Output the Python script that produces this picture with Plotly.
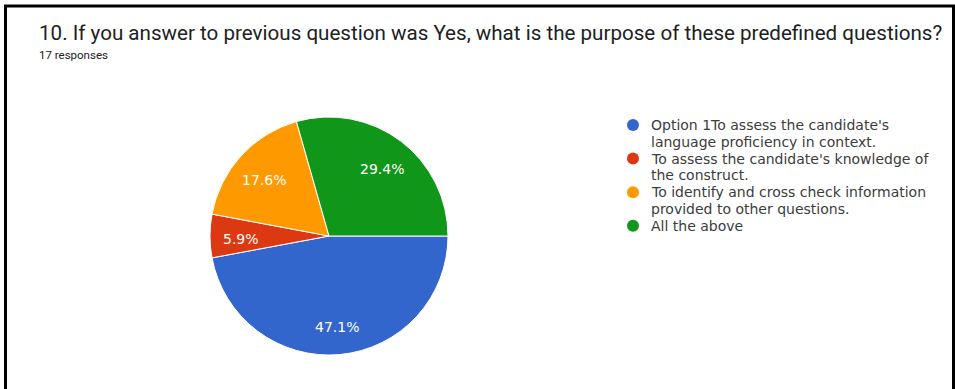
import math
import plotly.graph_objects as go

# Survey responses (17 total) for question 10
labels = [
    "Option 1To assess the candidate's language proficiency in context.",
    "To assess the candidate's knowledge of the construct.",
    "To identify and cross check information provided to other questions.",
    "All the above",
]
legend_lines = [
    ["Option 1To assess the candidate's", "language proficiency in context."],
    ["To assess the candidate's knowledge of", "the construct."],
    ["To identify and cross check information", "provided to other questions."],
    ["All the above"],
]
counts = [8, 1, 3, 5]
colors = ["#3366cc", "#dc3912", "#ff9900", "#109618"]

W, H = 955, 389
TITLE_FONT = "Roboto, Arial, sans-serif"
CHART_FONT = "DejaVu Sans, Arial, sans-serif"

# pie geometry in pixels
CX, CY, R = 329, 236, 119
LABEL_RADIUS = 0.74


def px(x):
    return x / W


def py(y):
    return 1 - y / H


fig = go.Figure()

fig.add_trace(go.Pie(
    labels=labels,
    values=counts,
    sort=False,
    direction="clockwise",
    rotation=90,
    marker=dict(colors=colors, line=dict(color="white", width=1)),
    textinfo="none",
    showlegend=False,
    hoverinfo="label+value+percent",
    domain=dict(x=[px(CX - R), px(CX + R)], y=[py(CY + R), py(CY - R)]),
))

annotations = []

# percentage labels placed along each slice's mid angle
total = sum(counts)
start = 0.0
for c in counts:
    frac = c / total
    mid = math.radians((start + frac / 2) * 360)  # clockwise from 3 o'clock
    lx = CX + LABEL_RADIUS * R * math.cos(mid)
    ly = CY + LABEL_RADIUS * R * math.sin(mid) + 3
    annotations.append(dict(
        text=f"{frac * 100:.1f}%", x=px(lx), y=py(ly),
        xref="paper", yref="paper", showarrow=False,
        xanchor="center", yanchor="middle",
        font=dict(family=CHART_FONT, size=14, color="white"),
    ))
    start += frac

# legend: circle marker plus wrapped text lines
shapes = []
LEG_X, LEG_TEXT_X, LEG_Y0, LINE_STEP, DOT_R = 633, 649, 125, 16.8, 6
line_no = 0
for lines, col in zip(legend_lines, colors):
    y_item = LEG_Y0 + line_no * LINE_STEP
    shapes.append(dict(
        type="circle", xref="paper", yref="paper",
        x0=px(LEG_X - DOT_R), x1=px(LEG_X + DOT_R),
        y0=py(y_item + DOT_R), y1=py(y_item - DOT_R),
        fillcolor=col, line=dict(width=0),
    ))
    for ln in lines:
        annotations.append(dict(
            text=ln, x=px(LEG_TEXT_X), y=py(LEG_Y0 + line_no * LINE_STEP),
            xref="paper", yref="paper", showarrow=False,
            xanchor="left", yanchor="middle",
            font=dict(family=CHART_FONT, size=14, color="#3c3c3c"),
        ))
        line_no += 1

annotations += [
    dict(text="10. If you answer to previous question was Yes, what is the purpose of these predefined questions?",
         x=px(37), y=py(33), xref="paper", yref="paper",
         xanchor="left", yanchor="middle", showarrow=False,
         font=dict(family=TITLE_FONT, size=20.6, color="#202124")),
    dict(text="17 responses",
         x=px(37), y=py(54.5), xref="paper", yref="paper",
         xanchor="left", yanchor="middle", showarrow=False,
         font=dict(family=TITLE_FONT, size=11.5, color="#202124")),
]

# outer frame on top, left and right
shapes += [
    dict(type="line", xref="paper", yref="paper",
         x0=px(4), x1=px(955), y0=py(6), y1=py(6),
         line=dict(color="black", width=3)),
    dict(type="line", xref="paper", yref="paper",
         x0=px(5.5), x1=px(5.5), y0=0, y1=py(5),
         line=dict(color="black", width=3)),
    dict(type="line", xref="paper", yref="paper",
         x0=px(953.5), x1=px(953.5), y0=0, y1=py(5),
         line=dict(color="black", width=3)),
]

fig.update_layout(
    width=W, height=H,
    margin=dict(l=0, r=0, t=0, b=0),
    paper_bgcolor="white",
    plot_bgcolor="white",
    showlegend=False,
    annotations=annotations,
    shapes=shapes,
)

fig.write_html("out.html")
